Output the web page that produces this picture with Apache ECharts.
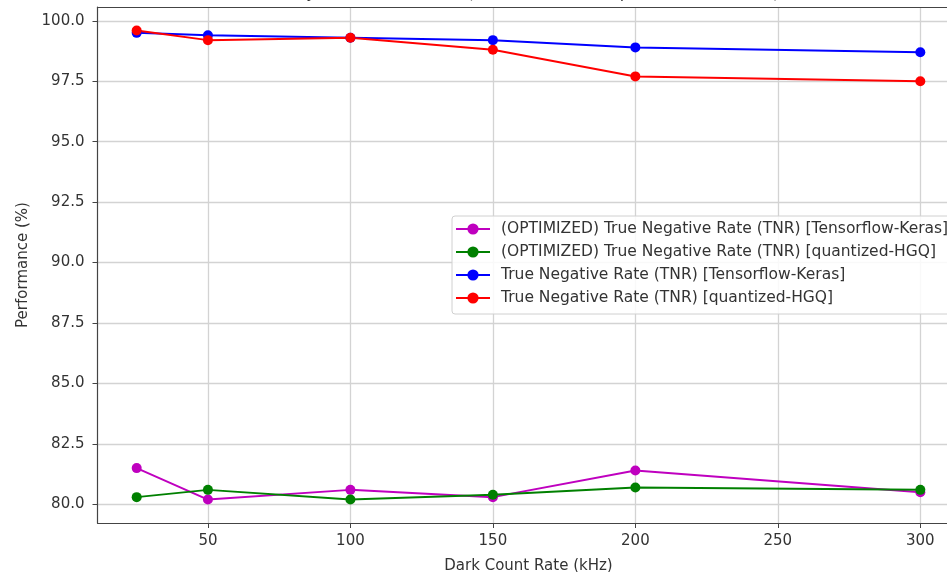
<!DOCTYPE html>
<html>
<head>
<meta charset="utf-8">
<title>TNR vs Dark Count Rate</title>
<script src="https://cdn.jsdelivr.net/npm/echarts@6/dist/echarts.min.js"></script>
<style>
  html, body { margin: 0; padding: 0; background: #fff; }
  #chart { width: 947px; height: 572px; }
</style>
</head>
<body>
<div id="chart"></div>
<script>
// Dark count rates (kHz)
const darkCountRate = [25, 50, 100, 150, 200, 300];

// TNR values (%)
const optTnrKeras = [81.5, 80.2, 80.6, 80.3, 81.4, 80.5];
const optTnrHgq = [80.3, 80.6, 80.2, 80.4, 80.7, 80.6];
const tnrKeras = [99.5, 99.4, 99.3, 99.2, 98.9, 98.7];
const tnrHgq = [99.6, 99.2, 99.3, 98.8, 97.7, 97.5];

const seriesNames = [
  '(OPTIMIZED) True Negative Rate (TNR) [Tensorflow-Keras]',
  '(OPTIMIZED) True Negative Rate (TNR) [quantized-HGQ]',
  'True Negative Rate (TNR) [Tensorflow-Keras]',
  'True Negative Rate (TNR) [quantized-HGQ]'
];
const seriesColors = ['#bf00bf', '#008000', '#0000ff', '#ff0000'];

// tick positions
const xTicks = [50, 100, 150, 200, 250, 300];
const yTicks = [80, 82.5, 85, 87.5, 90, 92.5, 95, 97.5, 100];

const font = 'DejaVu Sans';
const fs = 15;
const pair = (ys) => darkCountRate.map((x, i) => [x, ys[i]]);

const chart = echarts.init(document.getElementById('chart'));

const allSeries = [optTnrKeras, optTnrHgq, tnrKeras, tnrHgq].map((ys, i) => ({
  name: seriesNames[i],
  type: 'line',
  data: pair(ys),
  symbol: 'circle',
  symbolSize: 10,
  lineStyle: { width: 2, color: seriesColors[i] },
  itemStyle: { color: seriesColors[i] },
  emphasis: { disabled: true },
  animation: false
}));

// the plot runs past the right edge of the picture (right spine cut off)
const xMin = 11.25, xMax = 313.75;

const option = {
  backgroundColor: '#fff',
  animation: false,
  title: {
    text: 'Data Reduction System Performance (No Threshold vs Optimized Threshold)',
    left: 'center',
    top: -19,
    textStyle: { fontFamily: font, fontSize: 16, fontWeight: 'normal', color: '#333' }
  },
  grid: {
    left: 97.5,
    top: 7,
    width: 862,
    height: 516,
    outerBoundsMode: 'none',
    containLabel: false,
    show: false
  },
  legend: {
    orient: 'vertical',
    left: 452,
    top: 216,
    data: seriesNames,
    itemWidth: 34,
    itemHeight: 14,
    itemGap: 7,
    padding: [5, 20, 8, 3],
    backgroundColor: 'rgba(255,255,255,0.85)',
    borderColor: '#d0d0d0',
    borderWidth: 1,
    borderRadius: 3,
    textStyle: { fontFamily: font, fontSize: 15.5, lineHeight: 15, color: '#333', padding: [0, 0, 0, 6] }
  },
  xAxis: [{
    type: 'value',
    min: xMin,
    max: xMax,
    name: 'Dark Count Rate (kHz)',
    nameLocation: 'middle',
    nameGap: 36,
    nameTextStyle: { fontFamily: font, fontSize: fs, color: '#333' },
    axisLine: { show: true, lineStyle: { color: '#444', width: 1.2 } },
    axisTick: { show: true, length: 5, customValues: xTicks, lineStyle: { color: '#444' } },
    axisLabel: {
      customValues: xTicks,
      margin: 11,
      fontFamily: font,
      fontSize: fs,
      color: '#333'
    },
    splitLine: { show: true, lineStyle: { color: '#d3d3d3', width: 1.3 } }
  }, {
    // top spine only
    type: 'value',
    position: 'top',
    min: xMin,
    max: xMax,
    axisLine: { show: true, onZero: false, lineStyle: { color: '#444', width: 1.2 } },
    axisTick: { show: false },
    axisLabel: { show: false },
    splitLine: { show: false }
  }],
  yAxis: {
    type: 'value',
    min: 79.23,
    max: 100.57,
    name: 'Performance (%)',
    nameLocation: 'middle',
    nameGap: 67,
    nameTextStyle: { fontFamily: font, fontSize: fs, color: '#333' },
    axisLine: { show: true, onZero: false, lineStyle: { color: '#444', width: 1.2 } },
    axisTick: { show: true, length: 5, customValues: yTicks, lineStyle: { color: '#444' } },
    axisLabel: {
      customValues: yTicks,
      margin: 13,
      fontFamily: font,
      fontSize: fs,
      color: '#333',
      formatter: (v) => v.toFixed(1)
    },
    splitLine: { show: true, lineStyle: { color: '#d3d3d3', width: 1.3 } }
  },
  series: allSeries
};

chart.setOption(option);
</script>
</body>
</html>
